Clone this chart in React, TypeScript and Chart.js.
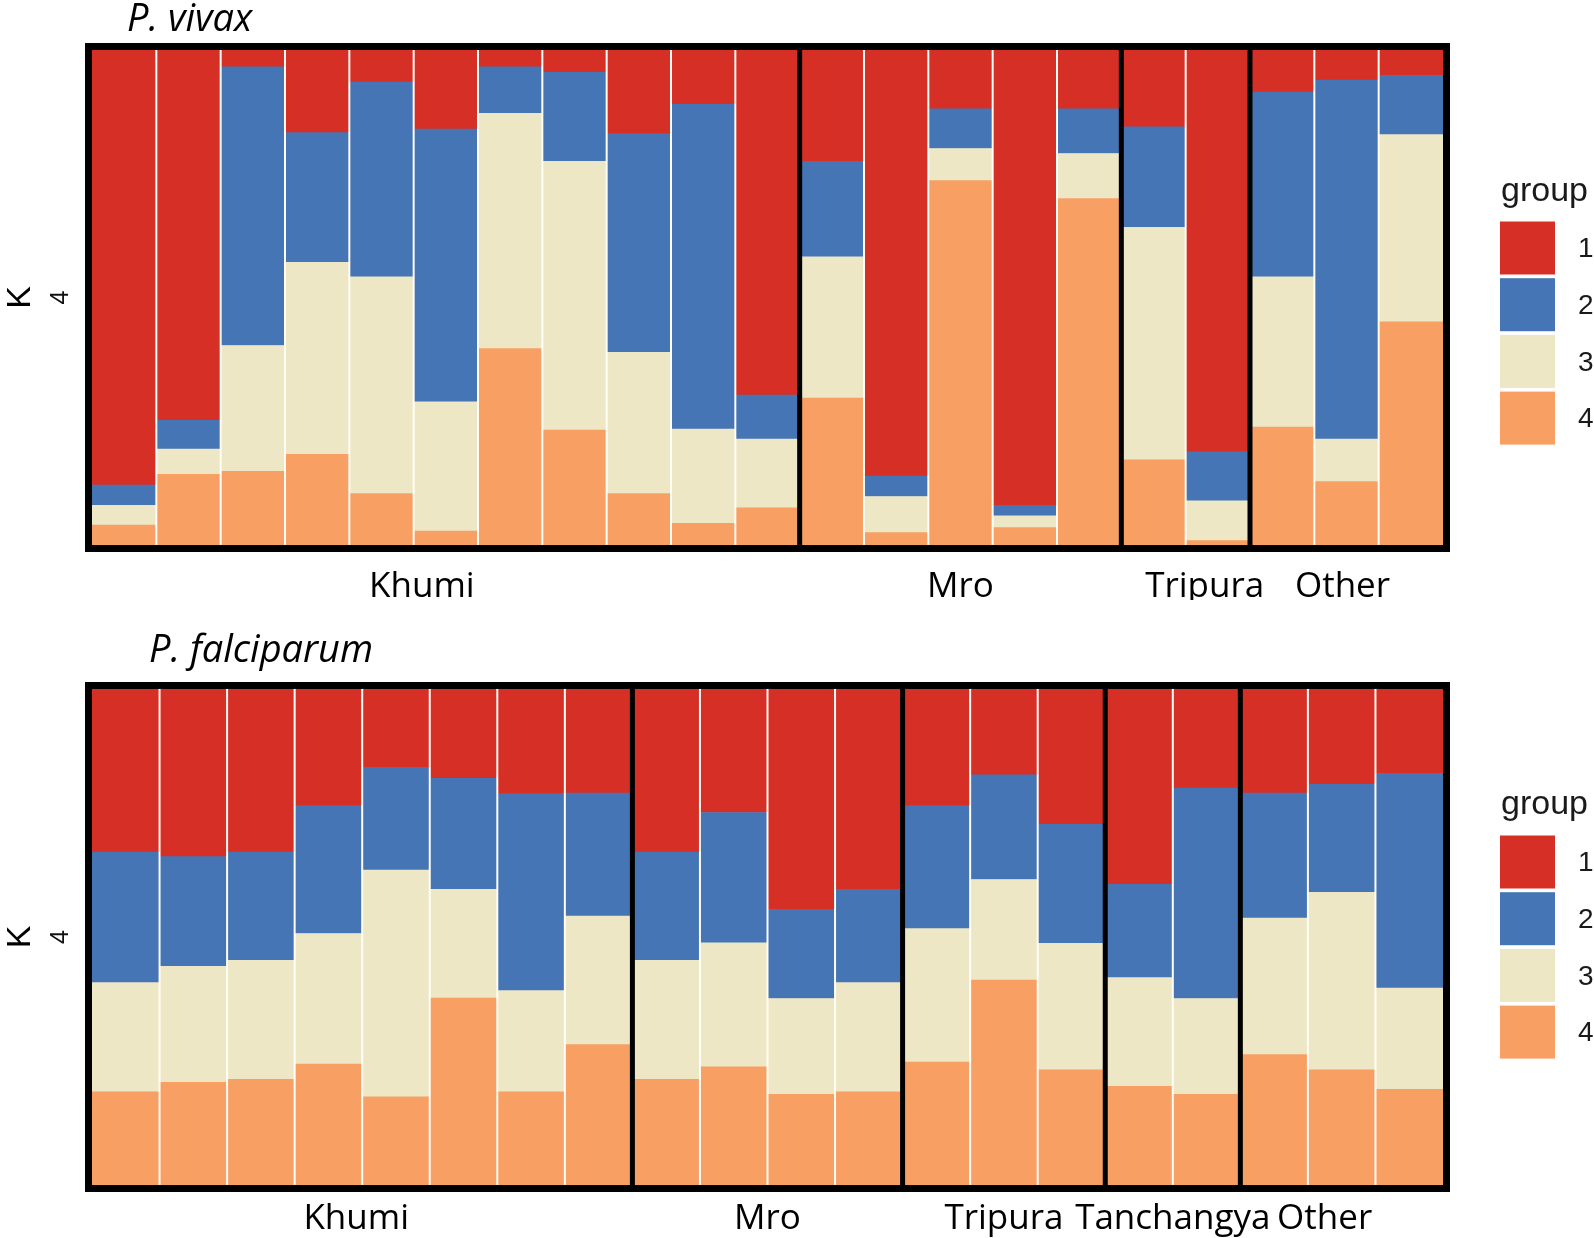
import React, { useEffect, useRef } from "react";
import { Chart, registerables } from "chart.js";

Chart.register(...registerables);

// ---------- shared legend ----------
const GROUP_LABELS = ["1", "2", "3", "4"];
const GROUP_COLORS = ["#D52F26", "#4575B4", "#EDE7C6", "#F8A064"];
const Y_TITLE = "K";
const Y_TICK = "4";

// ---------- P. vivax ----------
const vivaxPopulations = ["Khumi", "Mro", "Tripura", "Other"];
const vivaxPopSizes = [11, 5, 2, 3];
const vivaxG1 = [0.879, 0.748, 0.034, 0.167, 0.065, 0.160, 0.034, 0.045, 0.169, 0.110, 0.697, 0.225, 0.861, 0.119, 0.920, 0.119, 0.155, 0.812, 0.085, 0.061, 0.051];
const vivaxG2 = [0.041, 0.058, 0.563, 0.262, 0.393, 0.551, 0.094, 0.180, 0.442, 0.656, 0.089, 0.193, 0.041, 0.080, 0.021, 0.090, 0.203, 0.099, 0.373, 0.725, 0.120];
const vivaxG3 = [0.040, 0.051, 0.254, 0.388, 0.438, 0.261, 0.475, 0.543, 0.285, 0.190, 0.139, 0.285, 0.073, 0.065, 0.024, 0.091, 0.470, 0.080, 0.304, 0.086, 0.378];
const vivaxG4 = [0.040, 0.143, 0.149, 0.183, 0.104, 0.028, 0.397, 0.232, 0.104, 0.044, 0.075, 0.297, 0.025, 0.736, 0.035, 0.700, 0.172, 0.009, 0.238, 0.128, 0.451];

// ---------- P. falciparum ----------
const falciPopulations = ["Khumi", "Mro", "Tripura", "Tanchangya", "Other"];
const falciPopSizes = [8, 4, 3, 2, 3];
const falciG1 = [0.329, 0.338, 0.329, 0.235, 0.158, 0.180, 0.211, 0.210, 0.329, 0.249, 0.444, 0.404, 0.235, 0.173, 0.273, 0.394, 0.200, 0.210, 0.192, 0.170];
const falciG2 = [0.263, 0.221, 0.218, 0.258, 0.207, 0.224, 0.397, 0.248, 0.218, 0.263, 0.180, 0.188, 0.248, 0.211, 0.240, 0.188, 0.424, 0.252, 0.218, 0.433];
const falciG3 = [0.220, 0.234, 0.240, 0.263, 0.457, 0.219, 0.204, 0.259, 0.240, 0.250, 0.193, 0.220, 0.269, 0.203, 0.255, 0.219, 0.193, 0.275, 0.358, 0.204];
const falciG4 = [0.188, 0.207, 0.213, 0.244, 0.178, 0.377, 0.188, 0.283, 0.213, 0.238, 0.183, 0.188, 0.248, 0.413, 0.232, 0.199, 0.183, 0.263, 0.232, 0.193];

function sampleLabels(pops: string[], sizes: number[]): string[] {
  const out: string[] = [];
  pops.forEach((p, i) => {
    for (let k = 0; k < sizes[i]; k++) out.push(`${p} ${k + 1}`);
  });
  return out;
}

const structurePlugin = {
  id: "structureDecor",
  afterDatasetsDraw(chart: any, _args: any, opts: any) {
    const { ctx, chartArea: a } = chart;
    const x = chart.scales.x;
    const n = chart.data.labels.length;
    const sizes: number[] = opts.sizes;
    const pops: string[] = opts.pops;
    const bounds = new Set<number>();
    let acc = 0;
    sizes.forEach((s) => {
      acc += s;
      bounds.add(acc);
    });
    ctx.save();
    // separators
    for (let i = 1; i < n; i++) {
      const xp = (x.getPixelForValue(i - 1) + x.getPixelForValue(i)) / 2;
      ctx.beginPath();
      if (bounds.has(i)) {
        ctx.strokeStyle = "#000000";
        ctx.lineWidth = 5;
      } else {
        ctx.strokeStyle = "#FFFDF6";
        ctx.lineWidth = 2;
      }
      ctx.moveTo(xp, a.top);
      ctx.lineTo(xp, a.bottom);
      ctx.stroke();
    }
    // frame
    ctx.strokeStyle = "#000000";
    ctx.lineWidth = 7;
    ctx.strokeRect(a.left - 3.5, a.top - 3.5, a.right - a.left + 7, a.bottom - a.top + 7);

    // population labels
    ctx.fillStyle = "#000000";
    ctx.font = "35px 'Open Sans'";
    ctx.textAlign = "center";
    ctx.textBaseline = "alphabetic";
    let start = 0;
    pops.forEach((p, i) => {
      const center = start + (sizes[i] - 1) / 2;
      const px = x.getPixelForValue(center) + (opts.labelNudge[i] || 0);
      ctx.fillText(p, px, opts.popLabelY);
      start += sizes[i];
    });

    // panel title
    ctx.font = "italic 38px 'Open Sans'";
    ctx.textAlign = "left";
    ctx.fillText(opts.title, opts.titleX, opts.titleY);

    // y axis title and tick
    const cy = (a.top + a.bottom) / 2;
    ctx.save();
    ctx.translate(21, cy);
    ctx.rotate(-Math.PI / 2);
    ctx.textAlign = "center";
    ctx.textBaseline = "middle";
    ctx.font = "34px 'Liberation Sans'";
    ctx.fillStyle = "#000000";
    ctx.fillText(Y_TITLE, 0, 0);
    ctx.restore();
    ctx.save();
    ctx.translate(61, cy);
    ctx.rotate(-Math.PI / 2);
    ctx.textAlign = "center";
    ctx.textBaseline = "middle";
    ctx.font = "25px 'Liberation Sans'";
    ctx.fillStyle = "#111111";
    ctx.fillText(Y_TICK, 0, 0);
    ctx.restore();

    // legend
    ctx.textAlign = "left";
    ctx.textBaseline = "alphabetic";
    ctx.fillStyle = "#1a1a1a";
    ctx.font = "34px 'Liberation Sans'";
    ctx.fillText("group", 1501, opts.legendTitleY);
    GROUP_LABELS.forEach((lab, i) => {
      const top = opts.legendTop + i * 56.7;
      ctx.fillStyle = GROUP_COLORS[i];
      ctx.fillRect(1500, top, 55, 53);
      ctx.fillStyle = "#1a1a1a";
      ctx.font = "28px 'Liberation Sans'";
      ctx.textBaseline = "middle";
      ctx.fillText(lab, 1578, top + 28);
      ctx.textBaseline = "alphabetic";
    });
    ctx.restore();
  },
};

function makeConfig(
  pops: string[],
  sizes: number[],
  series: number[][],
  padding: any,
  decor: any
): any {
  return {
    type: "bar",
    data: {
      labels: sampleLabels(pops, sizes),
      datasets: [3, 2, 1, 0].map((g) => ({
        label: GROUP_LABELS[g],
        data: series[g],
        backgroundColor: GROUP_COLORS[g],
        borderWidth: 0,
        barPercentage: 1,
        categoryPercentage: 1,
      })),
    },
    options: {
      responsive: false,
      animation: false,
      devicePixelRatio: 1,
      layout: { padding },
      plugins: {
        legend: { display: false },
        title: { display: false },
        tooltip: { enabled: false },
        structureDecor: { pops, sizes, ...decor },
      },
      scales: {
        x: { stacked: true, display: false },
        y: { stacked: true, display: false, min: 0, max: 1 },
      },
    },
    plugins: [structurePlugin],
  };
}

function Panel({ top, height, config }: { top: number; height: number; config: () => any }) {
  const ref = useRef<HTMLCanvasElement | null>(null);
  useEffect(() => {
    if (!ref.current) return;
    const chart = new Chart(ref.current, config());
    return () => chart.destroy();
  }, []);
  return (
    <canvas
      ref={ref}
      width={1594}
      height={height}
      style={{ position: "absolute", left: 0, top, width: 1594, height, display: "block" }}
    />
  );
}

export default function App() {
  return (
    <div style={{ position: "absolute", left: 0, top: 0, width: 1594, height: 1238, background: "#ffffff", overflow: "hidden" }}>
      <Panel
        top={0}
        height={600}
        config={() =>
          makeConfig(
            vivaxPopulations,
            vivaxPopSizes,
            [vivaxG1, vivaxG2, vivaxG3, vivaxG4],
            { left: 92, right: 151, top: 50, bottom: 55 },
            {
              title: "P. vivax",
              titleX: 127,
              titleY: 31,
              popLabelY: 597,
              labelNudge: [-24, 0, 19, -4],
              legendTitleY: 201,
              legendTop: 221.5,
            }
          )
        }
      />
      <Panel
        top={620}
        height={618}
        config={() =>
          makeConfig(
            falciPopulations,
            falciPopSizes,
            [falciG1, falciG2, falciG3, falciG4],
            { left: 92, right: 151, top: 69, bottom: 53 },
            {
              title: "P. falciparum",
              titleX: 149,
              titleY: 42,
              popLabelY: 609,
              labelNudge: [-6, 0, 0, 0, -17],
              legendTitleY: 194,
              legendTop: 215.5,
            }
          )
        }
      />
    </div>
  );
}
